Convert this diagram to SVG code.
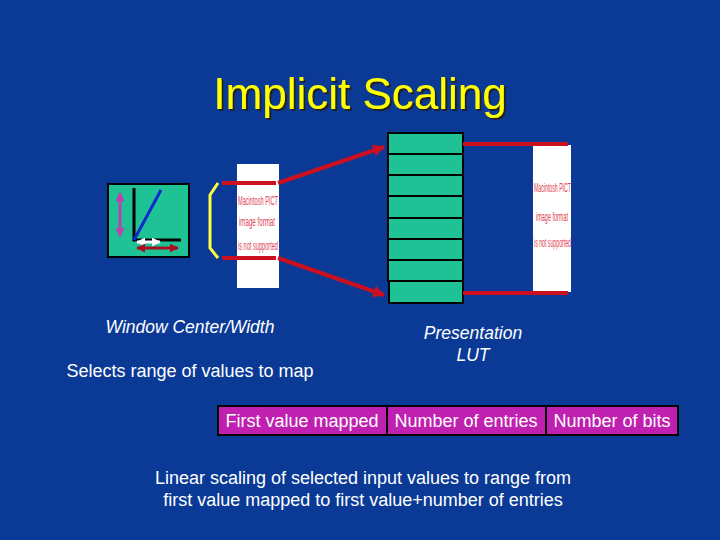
<svg xmlns="http://www.w3.org/2000/svg" width="720" height="540" viewBox="0 0 720 540">
<defs>
<style>
text{font-family:"Liberation Sans",Arial,sans-serif}
.t{fill:#fff;font-size:18px;text-anchor:middle}
.it{font-style:italic;font-size:17.5px}
.cell{fill:#1fc295;stroke:#000;stroke-width:2}
.red{stroke:#cc1020;stroke-width:4;fill:none}
.pict{fill:#e04050;font-size:12px}
.fld{fill:#c020b0;stroke:#000;stroke-width:2}
</style>
<filter id="sh" x="-5%" y="-20%" width="110%" height="140%"><feDropShadow dx="2" dy="2" stdDeviation="0.5" flood-color="#222"/></filter>
<marker id="ar" viewBox="0 0 10 10" refX="9" refY="5" markerWidth="3" markerHeight="3" orient="auto"><path d="M0,0L10,5L0,10z" fill="#cc1020"/></marker>
<marker id="am" viewBox="0 0 10 10" refX="9" refY="5" markerWidth="3" markerHeight="3" orient="auto-start-reverse"><path d="M0,0L10,5L0,10z" fill="context-stroke"/></marker>
</defs>
<rect width="720" height="540" fill="#0a3a96"/>
<text x="360" y="109" font-size="44" fill="#ffff00" text-anchor="middle" filter="url(#sh)">Implicit Scaling</text>
<g id="window">
<rect x="108" y="184" width="81" height="73" fill="#1fc295" stroke="#000" stroke-width="2"/>
<path d="M134,188V240H181" stroke="#000" stroke-width="3" fill="none"/>
<line x1="134" y1="240" x2="161" y2="190" stroke="#0a2ad0" stroke-width="3"/>
<line x1="120" y1="193" x2="120" y2="236" stroke="#c040b0" stroke-width="3" marker-start="url(#am)" marker-end="url(#am)"/>
<line x1="137" y1="242" x2="160" y2="242" stroke="#fff" stroke-width="3" marker-start="url(#am)" marker-end="url(#am)"/>
<line x1="137" y1="248" x2="178" y2="248" stroke="#aa1020" stroke-width="3" marker-start="url(#am)" marker-end="url(#am)"/>
</g>
<g id="image1">
<rect x="237" y="164" width="42" height="124" fill="#fff"/>
<text class="pict" x="238" y="205" textLength="40" lengthAdjust="spacingAndGlyphs">Macintosh PICT</text>
<text class="pict" x="239" y="226" textLength="36" lengthAdjust="spacingAndGlyphs">image format</text>
<text class="pict" x="238" y="250" textLength="40" lengthAdjust="spacingAndGlyphs">is not supported</text>
</g>
<g id="image2">
<rect x="533" y="145" width="38" height="147" fill="#fff"/>
<text class="pict" x="534" y="192" textLength="37" lengthAdjust="spacingAndGlyphs">Macintosh PICT</text>
<text class="pict" x="536" y="221" textLength="32" lengthAdjust="spacingAndGlyphs">image format</text>
<text class="pict" x="534" y="247" textLength="37" lengthAdjust="spacingAndGlyphs">is not supported</text>
</g>
<g id="lut">
<rect class="cell" x="388" y="133" width="75" height="21"/>
<rect class="cell" x="388" y="154" width="75" height="21"/>
<rect class="cell" x="388" y="175" width="75" height="21"/>
<rect class="cell" x="388" y="196" width="75" height="22"/>
<rect class="cell" x="388" y="218" width="75" height="21"/>
<rect class="cell" x="388" y="239" width="75" height="21"/>
<rect class="cell" x="388" y="260" width="75" height="21"/>
<rect class="cell" x="389" y="281" width="74" height="22"/>
</g>
<g id="connectors">
<path d="M218,183L210,195V248L218,258" stroke="#ffff40" stroke-width="3" fill="none"/>
<line class="red" x1="222" y1="183" x2="276" y2="183"/>
<line class="red" x1="222" y1="258" x2="276" y2="258"/>
<line class="red" x1="278" y1="183" x2="384" y2="147" marker-end="url(#ar)"/>
<line class="red" x1="278" y1="258" x2="384" y2="295" marker-end="url(#ar)"/>
<line class="red" x1="463" y1="144" x2="568" y2="144"/>
<line class="red" x1="463" y1="293" x2="568" y2="293"/>
</g>
<text class="t it" x="190" y="333">Window Center/Width</text>
<text class="t" x="190" y="377">Selects range of values to map</text>
<text class="t it" x="473" y="339">Presentation</text>
<text class="t it" x="473" y="361">LUT</text>
<g id="fields">
<rect class="fld" x="218" y="406" width="169" height="29"/>
<rect class="fld" x="387" y="406" width="159" height="29"/>
<rect class="fld" x="546" y="406" width="132" height="29"/>
<text class="t" x="302" y="427">First value mapped</text>
<text class="t" x="466" y="427">Number of entries</text>
<text class="t" x="612" y="427">Number of bits</text>
</g>
<text class="t" x="363" y="484">Linear scaling of selected input values to range from</text>
<text class="t" x="363" y="506">first value mapped to first value+number of entries</text>
</svg>
